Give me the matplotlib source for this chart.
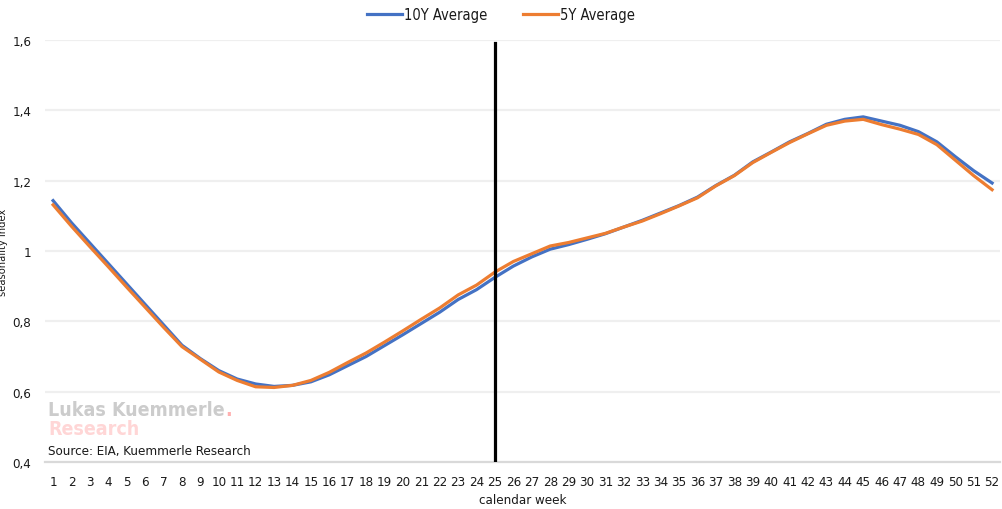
import numpy as np
import matplotlib.pyplot as plt
from matplotlib.ticker import FuncFormatter

plt.rcParams['font.family'] = ['Liberation Sans Narrow', 'DejaVu Sans']
plt.rcParams['font.stretch'] = 'condensed'

weeks = list(range(1, 53))

# seasonality index, 10 year average
avg_10y = [1.143, 1.080, 1.022, 0.964, 0.906, 0.848, 0.790, 0.732, 0.694, 0.660,
           0.636, 0.622, 0.615, 0.618, 0.628, 0.648, 0.674, 0.700, 0.731, 0.762,
           0.794, 0.826, 0.862, 0.890, 0.925, 0.957, 0.983, 1.005, 1.018, 1.033,
           1.049, 1.068, 1.087, 1.108, 1.129, 1.153, 1.186, 1.215, 1.253, 1.281,
           1.310, 1.334, 1.360, 1.374, 1.381, 1.369, 1.357, 1.339, 1.310, 1.268,
           1.228, 1.193]

# seasonality index, 5 year average
avg_5y = [1.131, 1.070, 1.012, 0.955, 0.897, 0.840, 0.783, 0.728, 0.692, 0.656,
          0.632, 0.614, 0.612, 0.618, 0.632, 0.655, 0.683, 0.710, 0.741, 0.773,
          0.806, 0.838, 0.875, 0.903, 0.940, 0.970, 0.992, 1.014, 1.024, 1.037,
          1.050, 1.068, 1.085, 1.106, 1.128, 1.151, 1.185, 1.214, 1.251, 1.280,
          1.308, 1.333, 1.357, 1.369, 1.374, 1.359, 1.346, 1.331, 1.302, 1.258,
          1.214, 1.174]

current_week = 25
yticks = [0.4, 0.6, 0.8, 1.0, 1.2, 1.4, 1.6]

fig = plt.figure(figsize=(10.02, 5.10), dpi=100)
ax = fig.add_axes([0.045, 0.092, 0.953, 0.828])

ax.plot(weeks, avg_10y, color='#4472C4', lw=2.3, label='10Y Average', zorder=3)
ax.plot(weeks, avg_5y, color='#ED7D31', lw=2.3, label='5Y Average', zorder=4)
ax.plot([current_week, current_week], [0.4, 1.59], color='black', lw=2.3, zorder=5)

ax.set_ylim(0.4, 1.6)
ax.set_xlim(0.565, 52.43)
ax.set_yticks(yticks)
ax.yaxis.set_major_formatter(FuncFormatter(lambda v, p: ('%g' % round(v, 1)).replace('.', ',')))
ax.set_xticks(weeks)
ax.grid(axis='y', color='#efefef', lw=1.6)
ax.set_axisbelow(True)
for s in ['top', 'right', 'left']:
    ax.spines[s].set_visible(False)
ax.spines['bottom'].set_color('#d9d9d9')
ax.spines['bottom'].set_linewidth(1.6)
ax.tick_params(length=0, labelsize=9.5, colors='#1a1a1a')
ax.tick_params(axis='x', pad=9)
ax.tick_params(axis='y', pad=10)
ax.set_ylabel('seasonality index', fontsize=8, color='#1a1a1a', labelpad=3)
ax.set_xlabel('calendar week', fontsize=9.5, color='#1a1a1a', labelpad=4)

fig.legend(loc='upper center', bbox_to_anchor=(0.5, 1.01), ncol=2, frameon=False,
           fontsize=10.5, handlelength=2.4, handletextpad=0.1, columnspacing=2.5,
           labelcolor='#1a1a1a')

wm = fig.text(0.048, 0.185, 'Lukas Kuemmerle', fontsize=14, fontweight='bold', color='#cccccc')
ax.annotate('.', xy=(1, 0), xycoords=wm, xytext=(0.5, 0), textcoords='offset points',
            fontsize=14, fontweight='bold', color='#ffb0b0', va='bottom')
fig.text(0.048, 0.148, 'Research', fontsize=14, fontweight='bold', color='#ffd6d6')
fig.text(0.048, 0.107, 'Source: EIA, Kuemmerle Research', fontsize=9.5, color='#1a1a1a')

plt.savefig('out.png', dpi=100)
